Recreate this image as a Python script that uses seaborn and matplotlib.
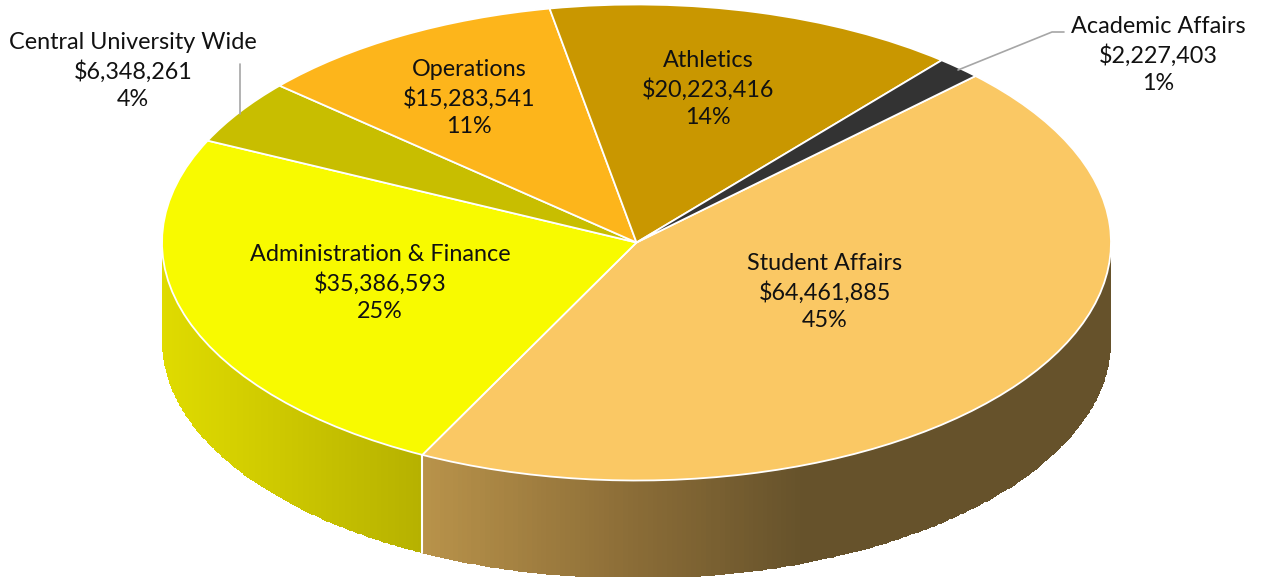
import numpy as np
import seaborn as sns
import matplotlib.pyplot as plt
from matplotlib.colors import LinearSegmentedColormap

departments = ["Student Affairs", "Administration & Finance", "Central University Wide",
               "Operations", "Athletics", "Academic Affairs"]
budget = [64461885, 35386593, 6348261, 15283541, 20223416, 2227403]
amount_labels = ["$64,461,885", "$35,386,593", "$6,348,261", "$15,283,541", "$20,223,416", "$2,227,403"]
pct_labels = ["45%", "25%", "4%", "11%", "14%", "1%"]
top_colors = ["#FAC864", "#F8FA00", "#C8BE00", "#FDB51B", "#C99700", "#333333"]

sns.set_theme(style="white")
plt.rcParams['font.family'] = ['Lato', 'DejaVu Sans']

W, H = 1262, 577
cx, cy = 636.5, 242.5
rx, ry = 474.5, 238
depth = 98
start = 44.4

fig = plt.figure(figsize=(W / 100, H / 100), dpi=100)
ax = fig.add_axes([0, 0, 1, 1])

# pie in a unit circle, the axes limits squash it to an ellipse
ax.pie(budget, colors=top_colors, startangle=start, counterclock=False, radius=1,
       wedgeprops={'edgecolor': 'white', 'linewidth': 1.3, 'zorder': 3})
ax.set_aspect('auto')
ax.set_xlim(-cx / rx, (W - cx) / rx)
ax.set_ylim(-(H - cy) / ry, cy / ry)

# side wall, only the front half of the ellipse is visible
d = depth / ry
angles = start - 360 * np.cumsum([0] + budget) / sum(budget)
student_cm = LinearSegmentedColormap.from_list(
    's', [(0, "#B8924A"), (0.28, "#8E6F38"), (0.55, "#66522B"), (1, "#66522B")])
admin_cm = LinearSegmentedColormap.from_list(
    'a', [(0, "#DFDB00"), (0.3, "#D4CF00"), (1, "#B6B100")])
walls = [(angles[1], 0, student_cm), (-180, angles[1], admin_cm)]
for a0, a1, cm in walls:
    a = np.radians(np.linspace(a0, a1, 200))
    xs = np.cos(a)
    ys = np.sin(a)
    X = np.vstack([xs, xs])
    Y = np.vstack([ys, ys - d])
    C = (xs[:-1] - xs[0]) / (xs[-1] - xs[0])
    ax.pcolormesh(X, Y, C[None, :], cmap=cm, shading='flat', zorder=1, rasterized=True)

# white seam between the two walls
xb = np.cos(np.radians(angles[1]))
yb = np.sin(np.radians(angles[1]))
ax.plot([xb, xb], [yb, yb - d], color='white', lw=1.5, zorder=2)

# labels
label_xy = [(825, 292), (380, 283), (133, 71), (469, 98), (708, 89), (1158, 55)]
for name, amt, pct, (lx, ly) in zip(departments, amount_labels, pct_labels, label_xy):
    ax.text((lx - cx) / rx, (cy - ly) / ry, f"{name}\n{amt}\n{pct}", ha='center', va='center',
            fontsize=16.8, color='#111111', linespacing=1.36, zorder=5)

# leader lines
ax.plot((np.array([958, 1052, 1064]) - cx) / rx, (cy - np.array([70, 32, 32])) / ry,
        color='#A6A6A6', lw=1.2, zorder=4)
ax.plot((np.array([240, 240]) - cx) / rx, (cy - np.array([114, 64])) / ry,
        color='#A6A6A6', lw=1.2, zorder=4)
ax.axis('off')

fig.savefig("out.png", dpi=100, facecolor='white')
